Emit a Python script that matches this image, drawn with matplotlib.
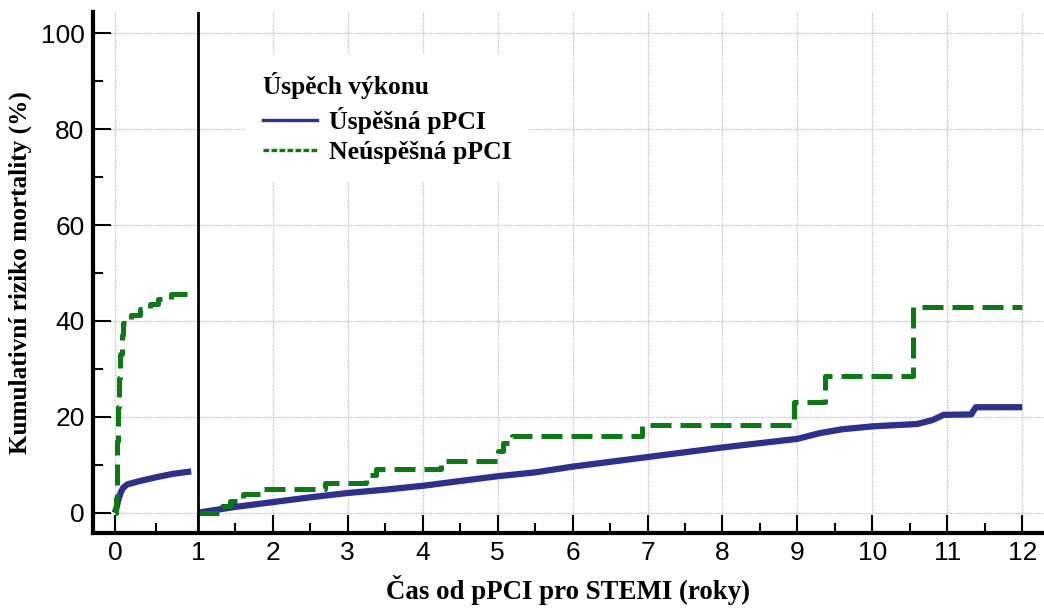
import numpy as np
import matplotlib
matplotlib.use('Agg')
import matplotlib.pyplot as plt
from matplotlib.lines import Line2D
from matplotlib.ticker import MultipleLocator

# first year (0-1 roky)
x_blue_1 = [0, 0.02, 0.04, 0.07, 0.1, 0.15, 0.3, 0.5, 0.7, 0.92]
y_blue_1 = [0, 1.0, 2.6, 4.2, 5.2, 5.9, 6.6, 7.4, 8.1, 8.6]
x_green_1 = [0, 0.01, 0.02, 0.03, 0.04, 0.05, 0.06, 0.08, 0.1, 0.13, 0.2, 0.3, 0.42, 0.52, 0.68, 0.88]
y_green_1 = [0, 3, 8, 15, 22, 28, 33, 37, 39.5, 40.5, 41.3, 42.5, 43.5, 44.5, 45.7, 45.7]

# landmark od 1 roku
x_blue_2 = [1.0, 1.5, 2.0, 2.5, 3.0, 3.5, 4.0, 4.5, 5.0, 5.5, 6.0, 6.5, 7.0, 7.5, 8.0, 8.5,
            9.0, 9.3, 9.6, 10.0, 10.6, 10.8, 10.95, 11.32, 11.38, 12.0]
y_blue_2 = [0, 1.2, 2.2, 3.2, 4.1, 4.8, 5.6, 6.6, 7.6, 8.4, 9.6, 10.6, 11.6, 12.6, 13.6, 14.5,
            15.4, 16.6, 17.4, 18.0, 18.5, 19.3, 20.4, 20.5, 22.0, 22.0]
x_green_2 = [1.0, 1.32, 1.43, 1.6, 1.87, 2.69, 3.25, 3.38, 4.25, 5.0, 5.07, 5.19, 6.92, 8.96, 9.37, 10.54, 12.0]
y_green_2 = [0, 1.3, 2.5, 3.8, 4.9, 6.2, 7.9, 9.1, 10.7, 12.9, 14.5, 15.9, 18.3, 23.0, 28.6, 43.0, 43.0]

x_ticks = list(range(0, 13))
y_ticks = [0, 20, 40, 60, 80, 100]
labels = ['Úspěšná pPCI', 'Neúspěšná pPCI']
legend_title = 'Úspěch výkonu'

blue = '#2d3090'
green = '#0b7a12'
green_dash = (0, (4.2, 1.8))

# first year is drawn a bit wider than the other years
k = 83 / 75
def fwd(x):
    x = np.asarray(x, dtype=float)
    return np.where(x < 1, x * k, k + (x - 1))
def inv(y):
    y = np.asarray(y, dtype=float)
    return np.where(y < k, y / k, 1 + (y - k))

fig = plt.figure(figsize=(10.44, 6.11), dpi=100)
ax = fig.add_axes([0.089, 0.128, 0.911, 0.852])
ax.set_xscale('function', functions=(fwd, inv))

ax.plot(x_blue_1, y_blue_1, color=blue, lw=4.5, solid_capstyle='butt')
ax.plot(x_green_1, y_green_1, color=green, lw=3.6, ls=green_dash, drawstyle='steps-post')
ax.plot(x_blue_2, y_blue_2, color=blue, lw=4.5, solid_capstyle='butt')
ax.plot(x_green_2, y_green_2, color=green, lw=3.6, ls=green_dash, drawstyle='steps-post')
ax.axvline(1, color='black', lw=2.0)

ax.set_xlim(-0.265, 12.29)
ax.set_ylim(-4.2, 104.4)
ax.set_xticks(x_ticks)
ax.set_yticks(y_ticks)
ax.xaxis.set_minor_locator(MultipleLocator(0.5))
ax.yaxis.set_minor_locator(MultipleLocator(10))
ax.tick_params(which='major', direction='in', length=13, width=1.5, pad=6, labelsize=19)
ax.tick_params(which='minor', direction='in', length=7, width=1.5)
for lab in ax.get_xticklabels() + ax.get_yticklabels():
    lab.set_family('Liberation Sans')

ax.grid(True, which='major', color='#bdbdbd', lw=0.9, ls=(0, (1, 1)))
ax.set_axisbelow(True)
for s in ['top', 'right']:
    ax.spines[s].set_visible(False)
for s in ['left', 'bottom']:
    ax.spines[s].set_linewidth(3)

ax.set_xlabel('Čas od pPCI pro STEMI (roky)', family='Liberation Serif', weight='bold', fontsize=19.4, labelpad=7)
ax.set_ylabel('Kumulativní riziko mortality (%)', family='Liberation Serif', weight='bold', fontsize=18.2, labelpad=6)

handles = [Line2D([], [], color=blue, lw=2.4),
           Line2D([], [], color=green, lw=2.4, ls=(0, (1.7, 0.7)))]
leg = ax.legend(handles, labels, title=legend_title, loc='upper left', bbox_to_anchor=(0.16, 0.92),
                borderaxespad=0, frameon=True, fancybox=False, framealpha=1, edgecolor='none',
                facecolor='white', handlelength=2.1, handletextpad=0.45, labelspacing=0.3,
                borderpad=0.7, alignment='left',
                prop={'family': 'Liberation Serif', 'weight': 'bold', 'size': 18.5},
                title_fontproperties={'family': 'Liberation Serif', 'weight': 'bold', 'size': 18.3})
leg._legend_box.align = 'left'

fig.savefig('out.png', dpi=100)
